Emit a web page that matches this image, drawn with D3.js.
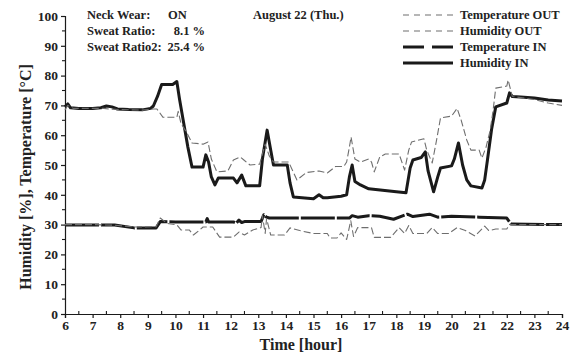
<!DOCTYPE html>
<html>
<head>
<meta charset="utf-8">
<script src="https://cdn.jsdelivr.net/npm/d3@7"></script>
<style>
  html, body { margin: 0; padding: 0; background: #fff; }
  svg { display: block; }
  text { font-family: "Liberation Serif", "Times New Roman", serif; font-weight: bold; fill: #222; }
</style>
</head>
<body>
<svg id="chart" width="573" height="356"></svg>
<script>
// Logged series: [hour, value]
const humidityIn = [[6.0,69.5],[6.1,70.5],[6.2,69.2],[6.5,69],[7.0,69],[7.3,69.2],[7.5,69.8],[7.7,69.5],[7.9,68.8],[8.3,68.6],[8.8,68.5],[9.1,69],[9.2,69.8],[9.35,73],[9.5,77],[9.9,77],[10.05,78],[10.15,72],[10.3,64],[10.45,56],[10.6,49.3],[11.0,49.3],[11.1,53.4],[11.2,51],[11.3,46],[11.43,43.3],[11.55,45.6],[12.1,45.6],[12.23,44],[12.4,46.6],[12.55,43],[13.05,43],[13.15,52],[13.32,61.7],[13.45,55],[13.55,50],[14.05,50],[14.15,44],[14.27,39.3],[15.0,38.7],[15.2,40],[15.35,39],[15.5,39],[16.0,39.5],[16.2,40],[16.3,46],[16.4,50],[16.5,44.5],[16.7,43.3],[17.0,42],[17.5,41.5],[18.0,41],[18.35,40.7],[18.5,49],[18.6,51.7],[18.9,52.5],[19.05,54.4],[19.15,48],[19.35,41],[19.5,46],[19.6,49],[20.0,49.7],[20.1,52],[20.25,57.4],[20.4,50],[20.55,45],[20.7,43],[21.1,42.3],[21.2,45],[21.3,51.7],[21.45,62],[21.6,69.5],[22.0,70.8],[22.1,74.2],[22.2,73],[22.5,72.8],[23.0,72.5],[23.5,71.8],[24.0,71.5]];

const humidityOut = [[6.0,68.5],[6.1,70],[6.3,69],[7.0,69],[7.4,69],[7.6,68.8],[8.0,68.6],[8.8,68.4],[9.2,68.8],[9.33,68.8],[9.55,66],[10.05,66],[10.1,68],[10.2,64],[10.42,60.7],[10.6,57.4],[11.0,57],[11.18,57.7],[11.3,52],[11.5,47.7],[11.9,48],[12.1,51.7],[12.35,52.7],[12.5,51.5],[12.7,50],[13.05,50.3],[13.25,57],[13.4,53],[13.55,51],[14.1,51],[14.25,48],[14.4,45],[14.75,47.5],[15.2,48],[15.5,47.3],[15.8,49.5],[16.1,49.5],[16.2,51],[16.3,56],[16.36,59.4],[16.5,52],[16.7,51],[17.0,52],[17.1,51],[17.2,47.7],[17.4,52.7],[17.6,53.7],[18.1,53.7],[18.3,48.3],[18.45,55],[18.55,57.7],[19.0,58.8],[19.1,55],[19.3,50.7],[19.45,58],[19.6,65.8],[20.0,66.4],[20.2,69],[20.35,65],[20.55,58.4],[20.7,55],[21.0,55],[21.1,52.3],[21.25,56],[21.4,61.7],[21.5,68],[21.6,75.8],[22.0,76.5],[22.05,78.5],[22.2,73],[23.0,72],[23.5,70.8],[24.0,70]];

const temperatureIn = [[6.0,29.9],[7.8,29.9],[8.5,28.9],[9.3,28.9],[9.45,31],[10.0,30.9],[11.1,30.9],[11.15,32],[11.2,30.9],[12.1,30.9],[12.2,30.5],[12.3,31.5],[12.4,30.7],[12.5,31],[13.1,31],[13.2,33.3],[13.3,32.5],[13.4,32.2],[14.0,32.2],[15.0,32.2],[16.3,32.2],[16.4,33],[16.6,32.5],[17.0,33],[17.4,32.8],[17.9,31.8],[18.4,33.5],[18.6,32.7],[19.2,33.5],[19.5,32.5],[20.0,32.8],[21.0,32.5],[22.0,32.2],[22.15,30.2],[24.0,30]];

const temperatureOut = [[6.0,30],[7.0,30],[7.8,29.8],[8.5,29.2],[9.3,29.3],[9.45,32.2],[9.7,30.4],[10.05,29.9],[10.2,28.2],[10.5,28.2],[10.65,26.5],[10.85,28],[11.0,29.2],[11.35,29.2],[11.6,25.8],[12.1,25.8],[12.3,27.5],[12.5,26.5],[12.8,28.2],[13.1,29],[13.15,33],[13.25,27],[13.3,32],[13.45,26.5],[13.95,26.5],[14.15,28.9],[14.5,28],[15.0,27],[15.5,27],[15.6,25.5],[15.85,25.5],[16.0,27.2],[16.2,25],[16.35,31.3],[16.45,26],[16.6,29],[17.1,29],[17.2,25.7],[17.8,25.7],[18.1,29],[18.3,27],[18.45,29.7],[18.6,27],[18.75,27],[19.1,27],[19.3,29],[19.5,27],[19.9,27],[20.2,29],[20.5,28],[20.85,26.2],[21.2,29.5],[21.35,28],[21.6,28.5],[22.0,28.5],[22.1,30],[22.5,30],[24.0,30]];

const xTicks = d3.range(6, 25, 1);
const yTicks = d3.range(0, 101, 10);
const infoLines = [["Neck Wear:", "ON"], ["Sweat Ratio:", "8.1 %"], ["Sweat Ratio2:", "25.4 %"]];
const dateLabel = "August 22 (Thu.)";
const legendItems = ["Temperature OUT", "Humidity OUT", "Temperature IN", "Humidity IN"];

const svg = d3.select("#chart");
const plotLeft = 65, plotRight = 562, plotTop = 16, plotBottom = 314;

const x = d3.scaleLinear().domain([6, 24]).range([plotLeft, plotRight]);
const y = d3.scaleLinear().domain([0, 100]).range([plotBottom, plotTop]);

const GREY = "#6e6e6e", BLACK = "#1a1a1a";
const styles = {
  tOut: { stroke: GREY, width: 1.1, dash: "7,3" },
  hOut: { stroke: GREY, width: 1.1, dash: "7,3" },
  tIn:  { stroke: BLACK, width: 3, dash: "34,2" },
  hIn:  { stroke: BLACK, width: 3, dash: null }
};

// Axes
const xAxis = svg.append("g").attr("transform", `translate(0,${plotBottom})`)
  .call(d3.axisBottom(x).tickValues(xTicks).tickFormat(d3.format("d")).tickSizeOuter(0).tickSize(4).tickPadding(2));
const yAxis = svg.append("g").attr("transform", `translate(${plotLeft},0)`)
  .call(d3.axisLeft(y).tickValues(yTicks).tickSizeOuter(0).tickSize(4).tickPadding(3));
[xAxis, yAxis].forEach(a => {
  a.select(".domain").attr("stroke", BLACK).attr("stroke-width", 1.2);
  a.selectAll(".tick line").attr("stroke", BLACK).attr("stroke-width", 1.2);
  a.selectAll("text").attr("font-size", 13.5).attr("fill", "#222")
    .style("font-family", "Liberation Serif").style("font-weight", "bold");
});

// Minor ticks (half hours point inward, y minor outward)
svg.append("g").selectAll("line").data(d3.range(6.5, 24, 1)).join("line")
  .attr("x1", d => x(d)).attr("x2", d => x(d)).attr("y1", plotBottom).attr("y2", plotBottom - 3)
  .attr("stroke", BLACK).attr("stroke-width", 1.1);
svg.append("g").selectAll("line").data(d3.range(5, 100, 10)).join("line")
  .attr("x1", plotLeft).attr("x2", plotLeft - 3).attr("y1", d => y(d)).attr("y2", d => y(d))
  .attr("stroke", BLACK).attr("stroke-width", 1.1);

// Series
const line = d3.line().x(d => x(d[0])).y(d => y(d[1]));
function drawSeries(data, s) {
  svg.append("path").datum(data).attr("d", line).attr("fill", "none")
    .attr("stroke", s.stroke).attr("stroke-width", s.width)
    .attr("stroke-linejoin", "round")
    .attr("stroke-dasharray", s.dash);
}
drawSeries(humidityIn, styles.hIn);
drawSeries(temperatureIn, styles.tIn);
drawSeries(humidityOut, styles.hOut);
drawSeries(temperatureOut, styles.tOut);

// Axis titles
svg.append("text").attr("x", 301).attr("y", 350)
  .attr("text-anchor", "middle").attr("font-size", 16).text("Time [hour]");
svg.append("text").attr("transform", "translate(31,177) rotate(-90)")
  .attr("text-anchor", "middle").attr("font-size", 16).text("Humidity [%], Temperature [°C]");

// Info block
infoLines.forEach((row, i) => {
  const ty = 19 + i * 16;
  svg.append("text").attr("x", 87).attr("y", ty).attr("font-size", 12.5).text(row[0]);
  if (i === 0) svg.append("text").attr("x", 168).attr("y", ty).attr("font-size", 12.5).text(row[1]);
  else svg.append("text").attr("x", 205).attr("y", ty).attr("text-anchor", "end").attr("font-size", 12.5).text(row[1]);
});
svg.append("text").attr("x", 253).attr("y", 19).attr("font-size", 12.5).text(dateLabel);

// Legend
const legendKeys = ["tOut", "hOut", "tIn", "hIn"];
legendItems.forEach((name, i) => {
  const ly = 15 + i * 16;
  const s = styles[legendKeys[i]];
  svg.append("line").attr("x1", 403).attr("x2", 453).attr("y1", ly).attr("y2", ly)
    .attr("stroke", s.stroke).attr("stroke-width", s.width)
    .attr("stroke-dasharray", i < 2 ? "6,5" : (i === 2 ? "21,8" : null));
  svg.append("text").attr("x", 460).attr("y", ly + 4).attr("font-size", 12.5).text(name);
});
</script>
</body>
</html>
